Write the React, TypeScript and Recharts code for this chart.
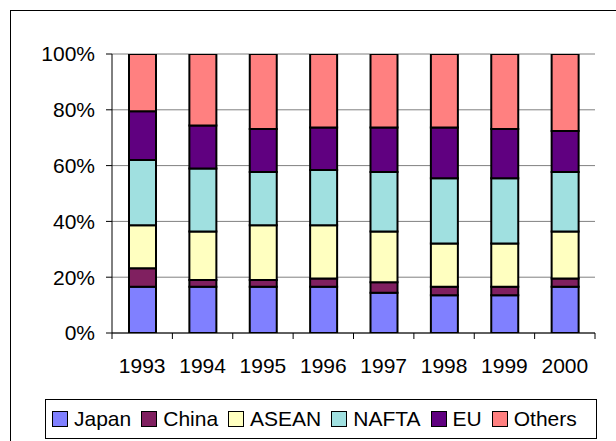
import React from 'react';
import { BarChart, Bar, XAxis, YAxis, CartesianGrid, Legend } from 'recharts';

const years = ['1993', '1994', '1995', '1996', '1997', '1998', '1999', '2000'];
const japan = [16.6, 16.6, 16.6, 16.6, 14.4, 13.5, 13.5, 16.6];
const china = [6.6, 2.4, 2.4, 2.9, 3.8, 3.1, 3.1, 2.9];
const asean = [15.4, 17.4, 19.6, 19.1, 18.2, 15.5, 15.5, 16.9];
const nafta = [23.4, 22.6, 19.1, 19.8, 21.3, 23.4, 23.4, 21.3];
const eu = [17.5, 15.4, 15.4, 15.3, 16.0, 18.2, 17.6, 14.7];
const others = [20.5, 25.6, 26.9, 26.3, 26.3, 26.3, 26.9, 27.6];
const yTicks = [0, 20, 40, 60, 80, 100];

const series = [
  { key: 'Japan', values: japan, color: '#8080FF' },
  { key: 'China', values: china, color: '#802060' },
  { key: 'ASEAN', values: asean, color: '#FFFFC0' },
  { key: 'NAFTA', values: nafta, color: '#A0E0E0' },
  { key: 'EU', values: eu, color: '#600080' },
  { key: 'Others', values: others, color: '#FF8080' },
];

const data = years.map((y, i) => {
  const row: any = { year: y };
  series.forEach((s) => (row[s.key] = s.values[i]));
  return row;
});

const FONT = '"Liberation Sans", Arial, sans-serif';
const W = 616;
const H = 441;
const LEFT = 112;
const RIGHT = 21;
const TOP = 54;
const BOTTOM = 108;
const BAND = (W - LEFT - RIGHT) / years.length;

const XTick = (props: any) => {
  const { x, y, payload, index } = props;
  const half = BAND / 2;
  return (
    <g>
      <line x1={x - half} x2={x - half} y1={y} y2={y + 6} stroke="#000" strokeWidth={1} />
      {index === years.length - 1 && (
        <line x1={x + half} x2={x + half} y1={y} y2={y + 6} stroke="#000" strokeWidth={1} />
      )}
      <text x={x} y={y + 40} textAnchor="middle" fill="#000" fontSize={21} fontFamily={FONT}>
        {payload.value}
      </text>
    </g>
  );
};

const LegendBox = () => (
  <div
    style={{
      border: '1px solid #000',
      boxSizing: 'border-box',
      width: 552,
      height: 40,
      display: 'flex',
      alignItems: 'center',
      paddingLeft: 6,
      fontFamily: FONT,
      fontSize: 21,
      color: '#000',
      background: '#fff',
      whiteSpace: 'nowrap',
    }}
  >
    {series.map((s) => (
      <span key={s.key} style={{ display: 'flex', alignItems: 'center', marginRight: 10 }}>
        <span
          style={{
            display: 'inline-block',
            width: 16,
            height: 16,
            border: '1px solid #000',
            boxSizing: 'border-box',
            background: s.color,
            marginRight: 6,
          }}
        />
        {s.key}
      </span>
    ))}
  </div>
);

export default function App() {
  return (
    <div style={{ position: 'fixed', left: 0, top: 0, width: W, height: H, background: '#fff', overflow: 'hidden' }}>
      <div
        style={{
          position: 'absolute',
          left: 10,
          top: 10,
          width: W + 20,
          height: H + 20,
          border: '1px solid #000',
        }}
      />
      <div style={{ position: 'absolute', left: 0, top: 0 }}>
        <BarChart
          width={W}
          height={H}
          data={data}
          margin={{ top: TOP, right: RIGHT, bottom: 0, left: 0 }}
          barSize={27}
        >
          <CartesianGrid horizontal vertical={false} stroke="#808080" strokeWidth={1} />
          <XAxis
            dataKey="year"
            height={BOTTOM}
            axisLine={{ stroke: '#000', strokeWidth: 1 }}
            tickLine={false}
            tickSize={0}
            tickMargin={0}
            tick={<XTick />}
            interval={0}
          />
          <YAxis
            width={LEFT}
            domain={[0, 100]}
            ticks={yTicks}
            tickFormatter={(v: number) => `${v}%`}
            axisLine={{ stroke: '#000', strokeWidth: 1 }}
            tickLine={{ stroke: '#000' }}
            tickSize={6}
            tickMargin={11}
            tick={{ fill: '#000', fontSize: 21, fontFamily: FONT }}
            allowDataOverflow
          />
          <YAxis
            yAxisId="r"
            orientation="right"
            width={0}
            domain={[0, 100]}
            tick={false}
            tickLine={false}
            axisLine={{ stroke: '#808080', strokeWidth: 1 }}
          />
          <Legend
            layout="horizontal"
            verticalAlign="middle"
            align="center"
            content={<LegendBox />}
            wrapperStyle={{ left: 45, top: 399, width: 552, height: 40 }}
          />
          {series.map((s) => (
            <Bar
              key={s.key}
              dataKey={s.key}
              stackId="a"
              fill={s.color}
              stroke="#000"
              strokeWidth={2}
              isAnimationActive={false}
            />
          ))}
        </BarChart>
      </div>
    </div>
  );
}
